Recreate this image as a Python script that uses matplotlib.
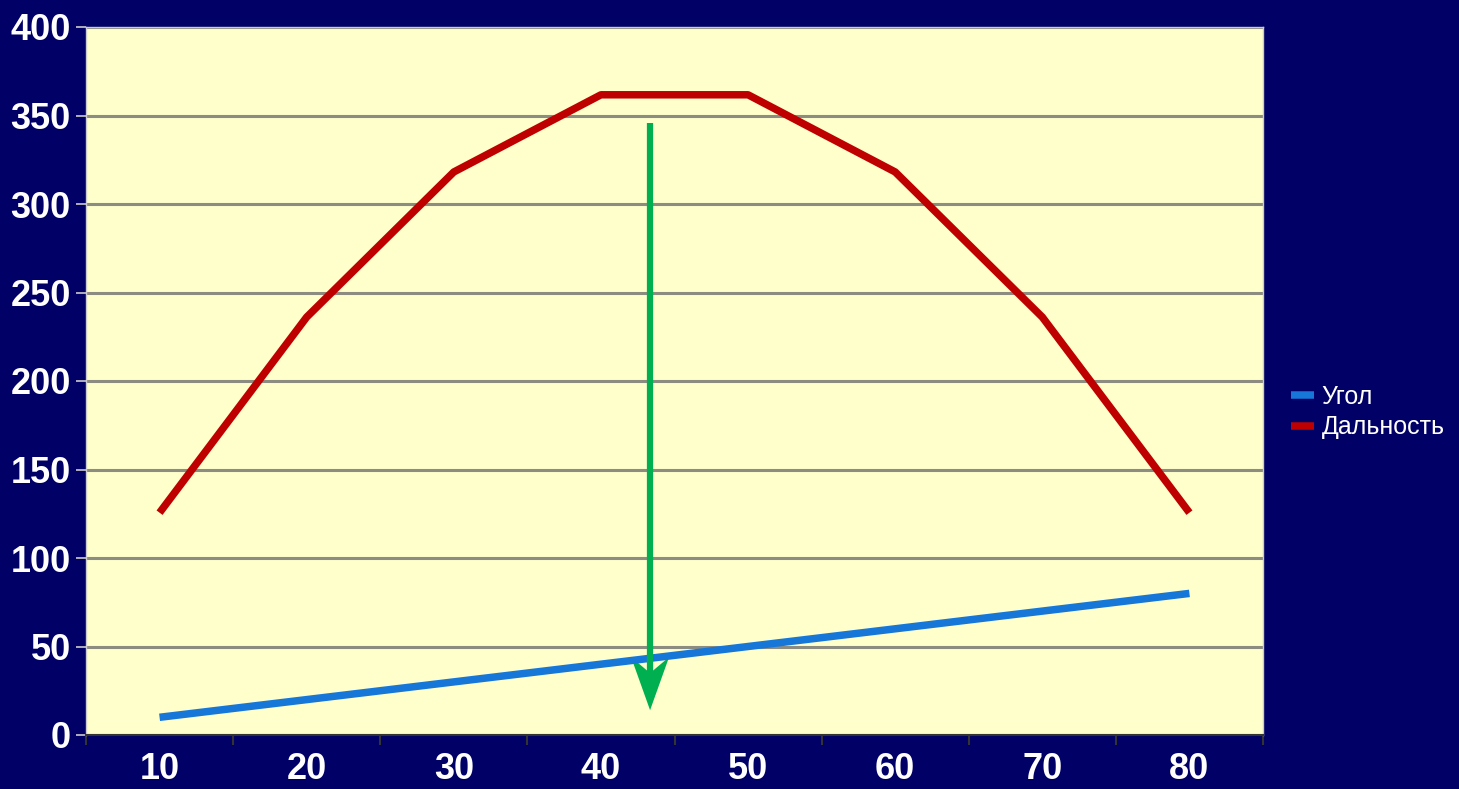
import matplotlib.pyplot as plt
from matplotlib.patches import Polygon
import numpy as np

# данные
angles = [10, 20, 30, 40, 50, 60, 70, 80]
ugol = [10, 20, 30, 40, 50, 60, 70, 80]
dalnost = [125.6, 236.1, 318.1, 361.7, 361.7, 318.1, 236.1, 125.6]
y_ticks = [0, 50, 100, 150, 200, 250, 300, 350, 400]

navy = '#000066'
plt.rcParams['font.family'] = ['Liberation Sans', 'DejaVu Sans']

fig = plt.figure(figsize=(14.59, 7.89), dpi=100, facecolor=navy)
ax = fig.add_axes([86/1459, 1 - 735/789, (1263-86)/1459, (735-27)/789])
ax.set_facecolor('#FFFFCC')

x = np.arange(len(angles))
ax.plot(x, ugol, color='#1777D9', lw=5.4, solid_capstyle='butt', label='Угол')
ax.plot(x, dalnost, color='#BF0000', lw=5.4, solid_capstyle='butt', label='Дальность')

ax.set_xlim(-0.5, len(angles) - 0.5)
ax.set_ylim(0, 400)
ax.set_yticks(y_ticks)
ax.set_yticklabels([str(v) for v in y_ticks], fontsize=26, fontweight='bold', color='white')
ax.set_xticks(x)
ax.set_xticklabels([str(a) for a in angles], fontsize=26, fontweight='bold', color='white')
ax.tick_params(axis='x', length=0, pad=12)
ax.set_xticks(np.arange(-0.5, len(angles)), minor=True)
ax.tick_params(axis='x', which='minor', length=7, width=1.5, color='#333333', direction='out')
ax.tick_params(axis='y', length=7, width=1.2, color='#cccccc', pad=4)

ax.grid(axis='y', color='#8C8C80', lw=2.2)
ax.set_axisbelow(True)
for side in ['top', 'right', 'left']:
    ax.spines[side].set_color('#cccccc')
    ax.spines[side].set_linewidth(1)
ax.spines['bottom'].set_color('#333333')
ax.spines['bottom'].set_linewidth(1.5)

# зелёная стрелка
green = '#00B050'
ax.plot([3.334, 3.334], [346, 30], color=green, lw=4.5, solid_capstyle='butt')
ax.add_patch(Polygon([[3.334, 14.0], [3.205, 44.0], [3.334, 35.0], [3.463, 44.0]],
                     closed=True, color=green, lw=0))

leg = ax.legend(loc='center left', bbox_to_anchor=(1.005, 0.456), frameon=False,
                fontsize=18, handlelength=0.9, handletextpad=0.3, labelspacing=0.25)
for t in leg.get_texts():
    t.set_color('white')

fig.savefig('out.png', dpi=100, facecolor=navy)
